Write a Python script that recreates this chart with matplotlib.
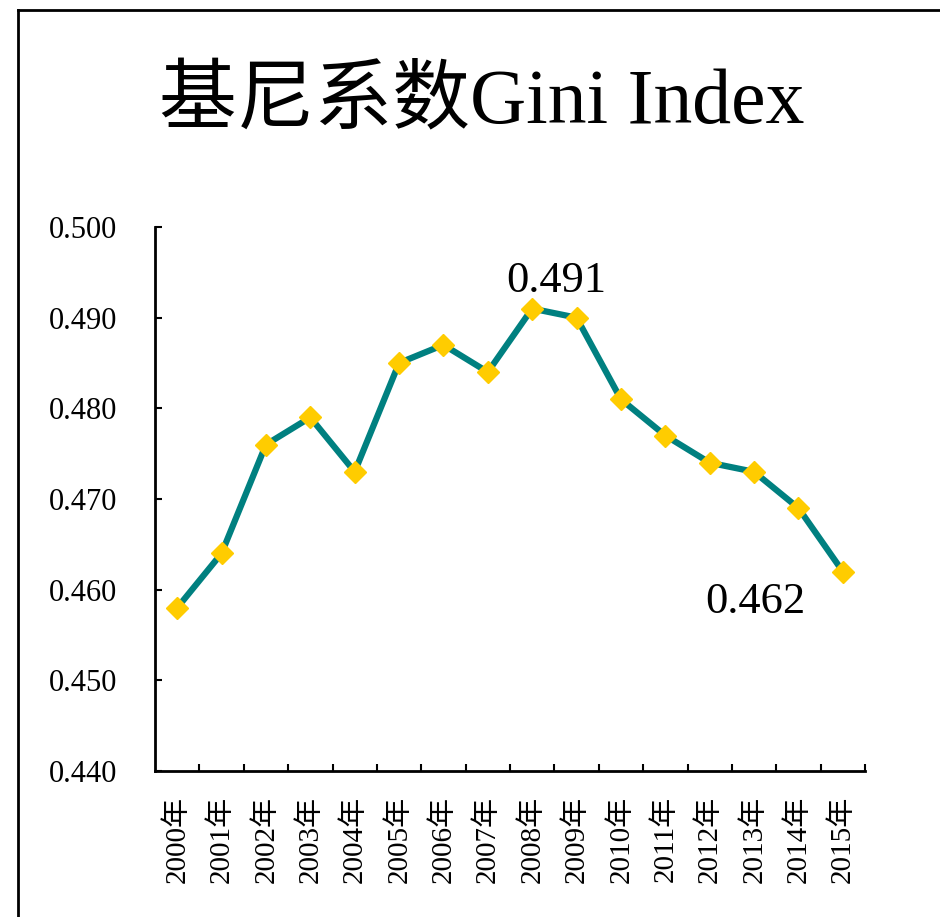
import matplotlib
matplotlib.use("Agg")
import matplotlib.pyplot as plt
from matplotlib.lines import Line2D
from matplotlib.ticker import FixedLocator, FormatStrFormatter

plt.rcParams['font.family'] = ['Liberation Serif', 'Noto Sans CJK SC', 'DejaVu Sans']

years = ["2000年", "2001年", "2002年", "2003年", "2004年", "2005年", "2006年", "2007年",
         "2008年", "2009年", "2010年", "2011年", "2012年", "2013年", "2014年", "2015年"]
gini = [0.458, 0.464, 0.476, 0.479, 0.473, 0.485, 0.487, 0.484,
        0.491, 0.490, 0.481, 0.477, 0.474, 0.473, 0.469, 0.462]
y_ticks = [0.440, 0.450, 0.460, 0.470, 0.480, 0.490, 0.500]
title = "基尼系数Gini Index"

W, H = 940, 917
fig = plt.figure(figsize=(W / 100, H / 100), dpi=100)

# outer frame lines (left and top)
fig.add_artist(Line2D([18 / W, 18 / W], [0, 1 - 10 / H], transform=fig.transFigure,
                      color='black', lw=2))
fig.add_artist(Line2D([18 / W, 1], [1 - 10 / H, 1 - 10 / H], transform=fig.transFigure,
                      color='black', lw=2))

ax = fig.add_axes([155 / W, 1 - 771 / H, 710 / W, 544 / H])
x = list(range(len(years)))
ax.plot(x, gini, color='#008080', lw=4.5, marker='D', ms=11,
        markerfacecolor='#FFCC00', markeredgecolor='#FFCC00', zorder=3)

ax.set_xlim(-0.5, len(years) - 0.5)
ax.set_ylim(y_ticks[0], y_ticks[-1])
ax.set_yticks(y_ticks)
ax.yaxis.set_major_formatter(FormatStrFormatter('%.3f'))
ax.set_xticks(x)
ax.set_xticklabels(years, rotation=90)
ax.xaxis.set_minor_locator(FixedLocator([i + 0.5 for i in range(len(years))]))

ax.tick_params(axis='x', which='major', length=0, pad=18, labelsize=21)
ax.tick_params(axis='x', which='minor', direction='in', length=5, width=1.5)
ax.tick_params(axis='y', which='major', direction='in', length=5, width=1.5, pad=27, labelsize=22)

for s in ['top', 'right']:
    ax.spines[s].set_visible(False)
for s in ['left', 'bottom']:
    ax.spines[s].set_linewidth(2)

ax.annotate(f"{gini[8]:.3f}", xy=(8, gini[8]), xytext=(17, 20), textcoords='offset points',
            ha='center', va='center', fontsize=32)
ax.annotate(f"{gini[15]:.3f}", xy=(15, gini[15]), xytext=(-63, -22), textcoords='offset points',
            ha='center', va='center', fontsize=32)

fig.text(482 / W, 1 - 104 / H, title, ha='center', va='center', fontsize=56)

fig.savefig("out.png", dpi=100)
